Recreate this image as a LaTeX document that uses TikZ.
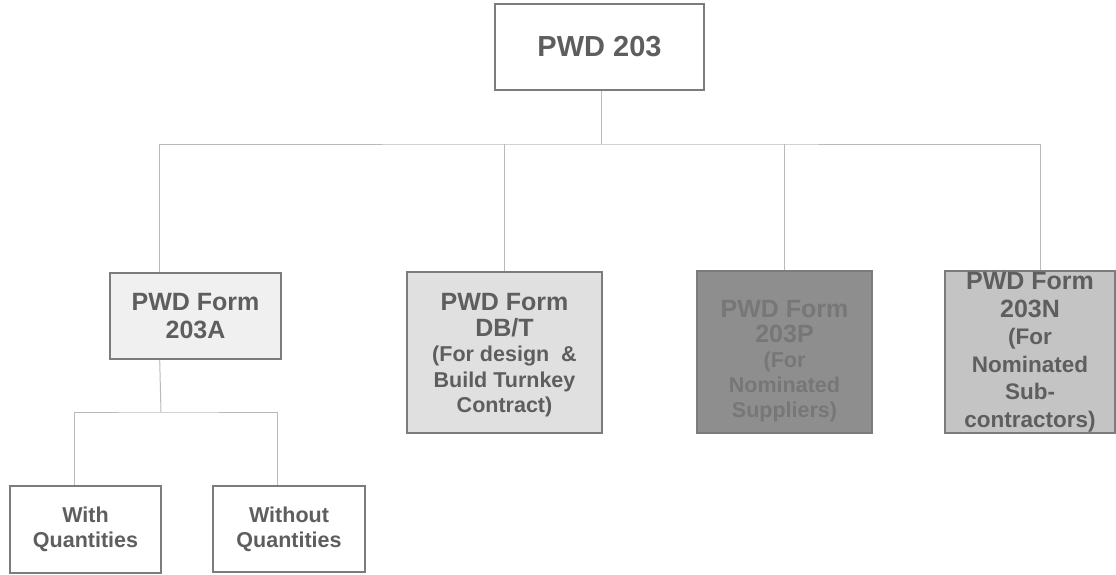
\documentclass[tikz,border=0pt]{standalone}
\usepackage{fontspec}
\setmainfont{Liberation Sans}
\definecolor{edge}{HTML}{7C7C7C}
\definecolor{ink}{HTML}{5E5E5E}
\definecolor{wire}{HTML}{BABABA}
\definecolor{fillA}{HTML}{F0F0F0}
\definecolor{fillB}{HTML}{E0E0E0}
\definecolor{fillC}{HTML}{8E8E8E}
\definecolor{inkC}{HTML}{777777}
\definecolor{fillD}{HTML}{C4C4C4}
% larger size for the form title lines
\newcommand{\hd}{\fontsize{25}{28.5}\selectfont}
\begin{document}
\begin{tikzpicture}[x=1pt,y=-1pt,
  box/.style={draw=edge, line width=2.6pt, text=ink, font=\bfseries,
    align=center, inner sep=0pt, anchor=center},
  label/.style={text=ink, font=\bfseries, align=center, inner sep=0pt},
  conn/.style={draw=wire, line width=1pt}]
\useasboundingbox (0,0) rectangle (1116,574);

% root
\node[box, minimum width=209pt, minimum height=86pt,
  font=\bfseries\fontsize{29}{33}\selectfont] (top) at (599.5,47) {PWD 203};

% second level forms
\node[box, fill=fillA, minimum width=171pt, minimum height=86pt,
  font=\bfseries\fontsize{25}{28}\selectfont] (a) at (195.5,316) {PWD Form\\203A};
\node[box, fill=fillB, minimum width=195pt, minimum height=161pt] (b) at (504.5,352.5) {};
\node[label, font=\bfseries\fontsize{21.5}{25.5}\selectfont] (btext)
  at ([yshift=-3pt]b.center)
  {\hd PWD Form\\\hd DB/T\\(For design~ \&\\Build Turnkey\\Contract)};
\node[box, fill=fillC, minimum width=175pt, minimum height=162pt] (c) at (784.5,352) {};
\node[label, text=inkC, font=\bfseries\fontsize{21.5}{25}\selectfont] (ctext)
  at ([yshift=-9pt]c.center)
  {\hd PWD Form\\\hd 203P\\(For\\Nominated\\Suppliers)};
\node[box, fill=fillD, minimum width=170pt, minimum height=162pt,
  font=\bfseries\fontsize{22.5}{27.5}\selectfont] (d) at (1030,352)
  {\hd PWD Form\\\hd 203N\\(For\\Nominated\\Sub-\\contractors)};

% third level
\node[box, minimum width=151pt, minimum height=87pt,
  font=\bfseries\fontsize{21.5}{25}\selectfont] (wq) at (85.5,529.5) {With\\Quantities};
\node[box, minimum width=152pt, minimum height=86pt,
  font=\bfseries\fontsize{21.5}{25}\selectfont] (woq) at (289,529) {Without\\Quantities};

% connector entry points
\coordinate (aIn) at ([xshift=51pt]a.north west);
\coordinate (aOut) at ([xshift=51pt]a.south west);
\coordinate (dIn) at ([xshift=97pt]d.north west);
\coordinate (wqIn) at ([xshift=66pt]wq.north west);
\coordinate (woqIn) at ([xshift=66pt]woq.north west);
\coordinate (bus) at (601,144);
\coordinate (subbus) at (161,412);

% upper tree
\draw[conn] (top.south -| bus) -- (bus);
\draw[conn] (aIn) |- (bus) -| (dIn);
\draw[conn] (b.north) -- (b.north |- bus);
\draw[conn] (c.north) -- (c.north |- bus);

% lower tree
\draw[conn] (aOut) -- (subbus);
\draw[conn] (wqIn) |- (subbus) -| (woqIn);
\end{tikzpicture}
\end{document}
